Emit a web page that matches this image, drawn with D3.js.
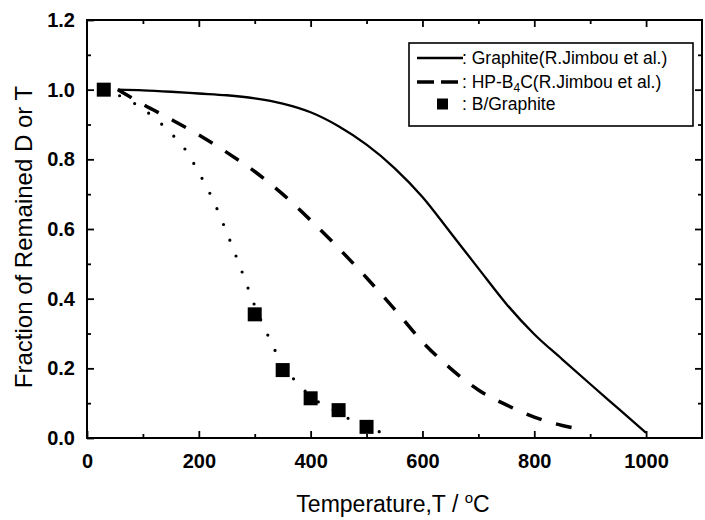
<!DOCTYPE html>
<html>
<head>
<meta charset="utf-8">
<script src="https://cdn.jsdelivr.net/npm/d3@7"></script>
<style>
  html, body { margin: 0; padding: 0; background: #fff; }
  svg { display: block; font-family: "Liberation Sans", Arial, sans-serif; }
</style>
</head>
<body>
<svg id="chart" width="705" height="520"></svg>
<script>
// Release curves: remaining fraction of D or T versus temperature
const graphiteT = [55, 100, 150, 200, 250, 300, 350, 400, 450, 500, 550, 600, 650, 700, 750, 800, 850, 900, 950, 1000];
const graphiteV = [1.0, 0.998, 0.994, 0.989, 0.984, 0.975, 0.96, 0.935, 0.895, 0.842, 0.775, 0.692, 0.59, 0.487, 0.385, 0.298, 0.226, 0.155, 0.085, 0.015];

const b4cT = [55, 100, 150, 200, 250, 300, 350, 400, 450, 500, 550, 600, 650, 700, 750, 800, 850, 885];
const b4cV = [1.0, 0.958, 0.915, 0.87, 0.82, 0.765, 0.70, 0.625, 0.545, 0.46, 0.37, 0.276, 0.2, 0.138, 0.095, 0.06, 0.036, 0.025];

const guideT = [30, 80, 120, 150, 175, 200, 225, 250, 275, 300, 325, 350, 375, 400, 450, 500, 525];
const guideV = [1.0, 0.965, 0.92, 0.875, 0.83, 0.762, 0.685, 0.59, 0.487, 0.38, 0.29, 0.21, 0.16, 0.12, 0.072, 0.03, 0.017];

const bGraphiteT = [30, 300, 350, 400, 450, 500];
const bGraphiteV = [1.0, 0.355, 0.195, 0.114, 0.08, 0.032];

const xMajor = [0, 200, 400, 600, 800, 1000];
const xMinor = [100, 300, 500, 700, 900];
const yMajor = [0.0, 0.2, 0.4, 0.6, 0.8, 1.0, 1.2];
const yMinor = [0.1, 0.3, 0.5, 0.7, 0.9, 1.1];

const legendLabels = ["Graphite(R.Jimbou et al.)", "HP-B|4|C(R.Jimbou et al.)", "B/Graphite"];

const svg = d3.select("#chart");
const L = 87, R = 702, T = 20, B = 438;

const x = d3.scaleLinear().domain([0, 1100]).range([L, R]);
const y = d3.scaleLinear().domain([0, 1.2]).range([B, T]);

// Frame
svg.append("rect")
  .attr("x", L).attr("y", T).attr("width", R - L).attr("height", B - T)
  .attr("fill", "none").attr("stroke", "#000").attr("stroke-width", 2);

function styleAxis(g) {
  g.select(".domain").remove();
  g.selectAll(".tick line").attr("stroke", "#000").attr("stroke-width", 1.8);
}

// Bottom axis with labels
svg.append("g").attr("transform", `translate(0,${B})`)
  .call(d3.axisBottom(x).tickValues(xMajor).tickSize(-7).tickPadding(16).tickFormat(d3.format("d")))
  .call(styleAxis)
  .call(g => g.selectAll("text").attr("font-size", 20).attr("font-weight", "bold")
    .attr("fill", "#000").attr("font-family", "Liberation Sans, Arial, sans-serif"));
svg.append("g").attr("transform", `translate(0,${B})`)
  .call(d3.axisBottom(x).tickValues(xMinor).tickSize(-4).tickFormat(""))
  .call(styleAxis);

// Top mirror ticks
svg.append("g").attr("transform", `translate(0,${T})`)
  .call(d3.axisTop(x).tickValues(xMajor.filter(v => v > 0)).tickSize(-7).tickFormat(""))
  .call(styleAxis);
svg.append("g").attr("transform", `translate(0,${T})`)
  .call(d3.axisTop(x).tickValues(xMinor).tickSize(-4).tickFormat(""))
  .call(styleAxis);

// Left axis with labels
svg.append("g").attr("transform", `translate(${L},0)`)
  .call(d3.axisLeft(y).tickValues(yMajor).tickSize(-7).tickPadding(12).tickFormat(d3.format(".1f")))
  .call(styleAxis)
  .call(g => g.selectAll("text").attr("font-size", 20).attr("font-weight", "bold")
    .attr("fill", "#000").attr("font-family", "Liberation Sans, Arial, sans-serif"));
svg.append("g").attr("transform", `translate(${L},0)`)
  .call(d3.axisLeft(y).tickValues(yMinor).tickSize(-4).tickFormat(""))
  .call(styleAxis);

// Right mirror ticks
svg.append("g").attr("transform", `translate(${R},0)`)
  .call(d3.axisRight(y).tickValues(yMajor.filter(v => v > 0 && v < 1.2)).tickSize(-7).tickFormat(""))
  .call(styleAxis);
svg.append("g").attr("transform", `translate(${R},0)`)
  .call(d3.axisRight(y).tickValues(yMinor).tickSize(-4).tickFormat(""))
  .call(styleAxis);

// Axis titles
const xt = svg.append("text")
  .attr("x", 393).attr("y", 512)
  .attr("text-anchor", "middle").attr("font-size", 23);
xt.append("tspan").text("Temperature,T / ");
xt.append("tspan").attr("font-size", 15).attr("dy", -9).text("o");
xt.append("tspan").attr("dy", 9).text("C");

svg.append("text")
  .attr("transform", "translate(32,237) rotate(-90)")
  .attr("text-anchor", "middle").attr("font-size", 24)
  .text("Fraction of Remained D or T");

// Curves
const line = d3.line().x(d => x(d[0])).y(d => y(d[1])).curve(d3.curveMonotoneX);

svg.append("path")
  .datum(d3.zip(graphiteT, graphiteV))
  .attr("d", line).attr("fill", "none").attr("stroke", "#000").attr("stroke-width", 2.3);

svg.append("path")
  .datum(d3.zip(b4cT, b4cV))
  .attr("d", line).attr("fill", "none").attr("stroke", "#000").attr("stroke-width", 3.5)
  .attr("stroke-dasharray", "16 15");

svg.append("path")
  .datum(d3.zip(guideT, guideV))
  .attr("d", line).attr("fill", "none").attr("stroke", "#000").attr("stroke-width", 3.2)
  .attr("stroke-linecap", "round").attr("stroke-dasharray", "0 17");

// B/Graphite measurements
const sq = 14;
svg.append("g").selectAll("rect")
  .data(d3.zip(bGraphiteT, bGraphiteV))
  .join("rect")
  .attr("x", d => x(d[0]) - sq / 2).attr("y", d => y(d[1]) - sq / 2)
  .attr("width", sq).attr("height", sq).attr("fill", "#000");

// Legend
const lg = svg.append("g");
lg.append("rect").attr("x", 409).attr("y", 43).attr("width", 284).attr("height", 83)
  .attr("fill", "#fff").attr("stroke", "#000").attr("stroke-width", 1.6);

const rowsY = [58, 82, 104];
lg.append("line").attr("x1", 417).attr("x2", 463).attr("y1", rowsY[0]).attr("y2", rowsY[0])
  .attr("stroke", "#000").attr("stroke-width", 2.3);
lg.append("line").attr("x1", 417).attr("x2", 459).attr("y1", rowsY[1]).attr("y2", rowsY[1])
  .attr("stroke", "#000").attr("stroke-width", 3.5).attr("stroke-dasharray", "17 7");
lg.append("rect").attr("x", 437).attr("y", rowsY[2] - 5.5).attr("width", 11).attr("height", 11).attr("fill", "#000");

legendLabels.forEach((lab, i) => {
  const t = lg.append("text").attr("x", 462).attr("y", rowsY[i] + 6).attr("font-size", 17.5);
  const parts = lab.split("|");
  t.append("tspan").text(": " + parts[0]);
  if (parts.length > 1) {
    t.append("tspan").attr("font-size", 12).attr("dy", 4).text(parts[1]);
    t.append("tspan").attr("dy", -4).text(parts[2]);
  }
});
</script>
</body>
</html>
